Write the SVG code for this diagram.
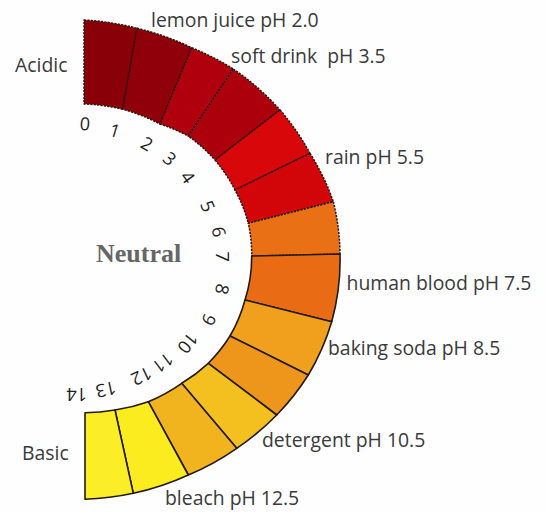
<svg xmlns="http://www.w3.org/2000/svg" width="547" height="512" viewBox="0 0 547 512">
<style>
.top{stroke:#2a1810;stroke-width:1.5;stroke-dasharray:2.2 1.2;stroke-linejoin:round}
.bot{stroke:#231a14;stroke-width:1.6;stroke-linejoin:round}
.lbl{font-family:"Open Sans","Liberation Sans",sans-serif;font-size:19.4px;fill:#3a3a3a}
.num{font-family:"Open Sans","Liberation Sans",sans-serif;font-size:18px;fill:#1e1e1e;text-anchor:middle;dominant-baseline:central}
</style>
<rect width="547" height="512" fill="#fefefe"/>
<g id="scale">
<g id="seg-0-1"><path class="top" fill="#8a0008" d="M84,20 A254,240 0 0 1 137,28.3 L122.7,109.3 A168,155 0 0 0 84,104 Z"/></g>
<g id="seg-1-2"><path class="top" fill="#8f000b" d="M137,28.3 A254,240 0 0 1 191.7,47.7 L160,124 A168,155 0 0 0 122.7,109.3 Z"/></g>
<g id="seg-2-3"><path class="top" fill="#b0000e" d="M191.7,47.7 A254,240 0 0 1 233.3,69 L188.3,136 A168,155 0 0 0 160,124 Z"/></g>
<g id="seg-3-4"><path class="top" fill="#ad000d" d="M233.3,69 A254,240 0 0 1 280,110 L215,160 A168,155 0 0 0 188.3,136 Z"/></g>
<g id="seg-4-5"><path class="top" fill="#d8070a" d="M280,110 A254,240 0 0 1 310,153.3 L235,190 A168,155 0 0 0 215,160 Z"/></g>
<g id="seg-5-6"><path class="top" fill="#d20508" d="M310,153.3 A254,240 0 0 1 333.3,201.7 L248.3,223.3 A168,155 0 0 0 235,190 Z"/></g>
<g id="seg-6-7"><path class="top" fill="#ea7016" d="M333.3,201.7 A254,240 0 0 1 340,254 L251.7,256 A168,155 0 0 0 248.3,223.3 Z"/></g>
<g id="seg-7-8"><path class="bot" fill="#e96b14" d="M340,254 A254,240 0 0 1 331.7,321.7 L245,300 A168,155 0 0 0 251.7,256 Z"/></g>
<g id="seg-8-9"><path class="bot" fill="#f1a01e" d="M331.7,321.7 A254,240 0 0 1 308.3,375 L230,336 A168,155 0 0 0 245,300 Z"/></g>
<g id="seg-9-10"><path class="bot" fill="#ee961c" d="M308.3,375 A254,240 0 0 1 276.7,415 L208.3,363.3 A168,155 0 0 0 230,336 Z"/></g>
<g id="seg-10-11"><path class="bot" fill="#f4c020" d="M276.7,415 A254,240 0 0 1 236.7,448.3 L181.7,383.3 A168,155 0 0 0 208.3,363.3 Z"/></g>
<g id="seg-11-12"><path class="bot" fill="#f2b41e" d="M236.7,448.3 A254,240 0 0 1 188.3,475 L148.3,401.7 A168,155 0 0 0 181.7,383.3 Z"/></g>
<g id="seg-12-13"><path class="bot" fill="#faec1e" d="M188.3,475 A254,240 0 0 1 133.3,493.3 L115,410 A168,155 0 0 0 148.3,401.7 Z"/></g>
<g id="seg-13-14"><path class="bot" fill="#fbee26" d="M133.3,493.3 A254,240 0 0 1 85,499.3 L85,412.7 A168,155 0 0 0 115,410 Z"/></g>
</g>
<g id="numbers">
<text class="num" transform="translate(85,123.3) rotate(5)">0</text>
<text class="num" transform="translate(115,130) rotate(17)">1</text>
<text class="num" transform="translate(147.3,143.3) rotate(30)">2</text>
<text class="num" transform="translate(170,158.3) rotate(42)">3</text>
<text class="num" transform="translate(188.3,176.7) rotate(54)">4</text>
<text class="num" transform="translate(208.3,206) rotate(67)">5</text>
<text class="num" transform="translate(219.3,231.7) rotate(79)">6</text>
<text class="num" transform="translate(223.3,256.7) rotate(90)">7</text>
<text class="num" transform="translate(222.7,289.3) rotate(103)">8</text>
<text class="num" transform="translate(209.3,320) rotate(116)">9</text>
<text class="num" transform="translate(188.3,343.3) rotate(129)">10</text>
<text class="num" transform="translate(163.3,363.3) rotate(143)">11</text>
<text class="num" transform="translate(141.7,376.7) rotate(155)">12</text>
<text class="num" transform="translate(106,390) rotate(168)">13</text>
<text class="num" transform="translate(76.7,395) rotate(180)">14</text>
</g>
<g id="labels">
<text class="lbl" x="15" y="72">Acidic</text>
<text class="lbl" x="22" y="460">Basic</text>
<text class="lbl" x="151" y="27">lemon juice pH 2.0</text>
<text class="lbl" x="231" y="63" xml:space="preserve">soft drink  pH 3.5</text>
<text class="lbl" x="325" y="164">rain pH 5.5</text>
<text class="lbl" x="346.5" y="290">human blood pH 7.5</text>
<text class="lbl" x="328" y="355">baking soda pH 8.5</text>
<text class="lbl" x="262" y="447">detergent pH 10.5</text>
<text class="lbl" x="165" y="505">bleach pH 12.5</text>
<text x="96" y="262" font-family="'Liberation Serif','Times New Roman',serif" font-weight="bold" font-size="26" fill="#666">Neutral</text>
</g>
</svg>
